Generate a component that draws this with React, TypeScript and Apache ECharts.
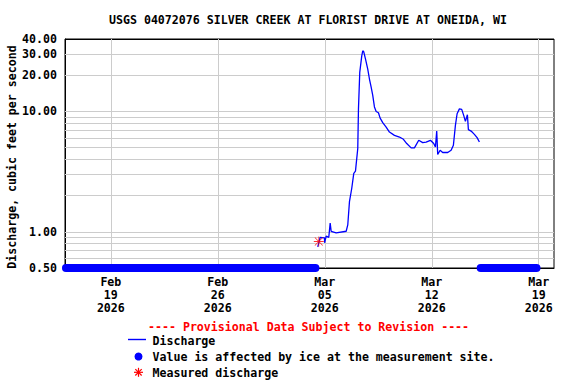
import React, { useEffect, useRef } from 'react';
import * as echarts from 'echarts';

const titleText = 'USGS 04072076 SILVER CREEK AT FLORIST DRIVE AT ONEIDA, WI';
const yAxisTitle = 'Discharge, cubic feet per second';
const provisionalText = '---- Provisional Data Subject to Revision ----';
const legendLabels = ['Discharge', 'Value is affected by ice at the measurement site.', 'Measured discharge'];

const xMin = '2026-02-16 00:00';
const xMax = '2026-03-20 00:00';
const xTickDates = ['2026-02-19 00:00', '2026-02-26 00:00', '2026-03-05 00:00', '2026-03-12 00:00', '2026-03-19 00:00'];
const xTickLabels = ['Feb\n19\n2026', 'Feb\n26\n2026', 'Mar\n05\n2026', 'Mar\n12\n2026', 'Mar\n19\n2026'];

const yMin = 0.5;
const yMax = 40;
const yGridValues = [0.6, 0.7, 0.8, 0.9, 1, 2, 3, 4, 5, 6, 7, 8, 9, 10, 20, 30];
const yLabelValues = [0.5, 1, 10, 20, 30, 40];
const yLabelTexts = ['0.50', '1.00', '10.00', '20.00', '30.00', '40.00'];

const dischargeTimes = [
  '2026-03-04 13:00', '2026-03-04 16:47', '2026-03-04 23:31', '2026-03-04 23:45', '2026-03-05 02:12',
  '2026-03-05 06:17', '2026-03-05 08:28', '2026-03-05 10:03', '2026-03-05 17:54', '2026-03-06 09:36',
  '2026-03-06 12:06', '2026-03-06 14:46', '2026-03-06 18:23', '2026-03-06 21:32', '2026-03-07 00:12',
  '2026-03-07 03:48', '2026-03-07 04:54', '2026-03-07 06:56', '2026-03-07 10:05', '2026-03-07 11:38',
  '2026-03-07 13:13', '2026-03-07 15:53', '2026-03-07 19:29', '2026-03-07 22:09', '2026-03-08 00:50',
  '2026-03-08 03:20', '2026-03-08 06:00', '2026-03-08 08:41', '2026-03-08 12:17', '2026-03-08 14:57',
  '2026-03-08 19:02', '2026-03-09 00:23', '2026-03-09 05:34', '2026-03-09 13:25', '2026-03-09 21:16',
  '2026-03-10 03:32', '2026-03-10 08:43', '2026-03-10 15:37', '2026-03-10 20:48', '2026-03-11 03:33',
  '2026-03-11 09:49', '2026-03-11 15:10', '2026-03-11 21:55', '2026-03-12 03:06', '2026-03-12 05:46',
  '2026-03-12 07:48', '2026-03-12 09:22', '2026-03-12 13:08', '2026-03-12 17:12', '2026-03-13 01:05',
  '2026-03-13 06:24', '2026-03-13 10:00', '2026-03-13 13:09', '2026-03-13 15:49', '2026-03-13 19:26',
  '2026-03-13 23:02', '2026-03-14 02:11', '2026-03-14 04:51', '2026-03-14 07:59', '2026-03-14 09:33',
  '2026-03-14 13:48', '2026-03-14 18:59', '2026-03-14 23:12', '2026-03-15 02:50',
];
const dischargeValues = [
  0.75, 0.9, 0.89, 0.81, 0.92,
  0.9, 1.18, 1.01, 0.98, 1.01,
  1.14, 1.78, 2.3, 3.06, 3.19,
  4.92, 10.5, 21.1, 29.0, 31.9,
  31.3, 27.3, 22.5, 18.6, 15.9,
  13.6, 10.9, 10.0, 9.75, 8.8,
  8.07, 7.42, 6.74, 6.33, 6.13,
  5.87, 5.41, 4.98, 4.98, 5.76,
  5.51, 5.57, 5.76, 5.41, 5.07,
  6.87, 4.39, 4.76, 4.56, 4.56,
  4.76, 5.24, 7.66, 9.57, 10.5,
  10.4, 9.27, 8.27, 9.39, 7.06,
  6.87, 6.45, 6.06, 5.57,
];

const iceStarts = ['2026-02-16 01:30', '2026-03-15 04:50'];
const iceEnds = ['2026-03-04 09:20', '2026-03-18 20:30'];
const iceValue = 0.5;

const measuredTimes = ['2026-03-04 14:36'];
const measuredValues = [0.83];

const FONT = '"DejaVu Sans Mono", "Liberation Mono", monospace';
const FS = 11.6;
const BLUE = '#0000ff';
const RED = '#ff0000';
const ASTERISK =
  'path://M0 9.2H20V10.8H0Z M9.2 0H10.8V20H9.2Z M1.6 2.7L2.7 1.6L18.4 17.3L17.3 18.4Z M17.3 1.6L18.4 2.7L2.7 18.4L1.6 17.3Z';

function toMs(s: string): number {
  const [d, t] = s.split(' ');
  const [y, m, dd] = d.split('-').map(Number);
  const [h, mi] = (t || '00:00').split(':').map(Number);
  return new Date(y, m - 1, dd, h, mi).getTime();
}

function asteriskGraphic(cx: number, cy: number, r: number) {
  const lines = [0, 45, 90, 135].map((deg) => {
    const a = (deg * Math.PI) / 180;
    return {
      type: 'line',
      shape: { x1: cx - r * Math.cos(a), y1: cy - r * Math.sin(a), x2: cx + r * Math.cos(a), y2: cy + r * Math.sin(a) },
      style: { stroke: RED, lineWidth: 1.2 },
    };
  });
  return { type: 'group', children: lines };
}

export default function App() {
  const ref = useRef<HTMLDivElement>(null);

  useEffect(() => {
    if (!ref.current) return;
    const chart = echarts.init(ref.current, undefined, { renderer: 'svg' });

    const yMarks: any[] = yGridValues.map((v) => {
      const i = yLabelValues.indexOf(v);
      return { yAxis: v, name: i >= 0 ? yLabelTexts[i] : '', label: { show: i >= 0, position: 'start', distance: 8 } };
    });
    yLabelValues.forEach((v, i) => {
      if (yGridValues.indexOf(v) < 0) {
        yMarks.push({
          yAxis: v,
          name: yLabelTexts[i],
          lineStyle: { color: '#000' },
          label: { show: true, position: 'start', distance: 8 },
        });
      }
    });
    const xMarks = xTickDates.map((d, i) => ({
      xAxis: toMs(d),
      name: xTickLabels[i],
      label: { show: true, position: 'start', distance: 7, lineHeight: 13, align: 'center' },
    }));

    const labelText = { fontFamily: FONT, fontSize: FS, fontWeight: 'bold', color: '#000' };

    const option: any = {
      animation: false,
      grid: {
        left: 65,
        top: 39,
        width: 489,
        height: 229,
        show: true,
        borderColor: '#000',
        borderWidth: 1,
        backgroundColor: 'transparent',
      },
      xAxis: {
        type: 'time',
        min: toMs(xMin),
        max: toMs(xMax),
        axisLabel: { show: false },
        axisTick: { show: false },
        splitLine: { show: false },
        axisLine: { show: true, lineStyle: { color: '#000', width: 1 } },
      },
      yAxis: {
        type: 'log',
        logBase: 10,
        min: yMin,
        max: yMax,
        axisLabel: { show: false },
        axisTick: { show: false },
        splitLine: { show: false },
        minorSplitLine: { show: false },
        axisLine: { show: true, lineStyle: { color: '#000', width: 1 } },
      },
      series: [
        {
          name: 'Discharge',
          type: 'line',
          z: 3,
          data: dischargeTimes.map((t, i) => [toMs(t), dischargeValues[i]]),
          showSymbol: false,
          symbol: 'none',
          lineStyle: { color: BLUE, width: 1.3 },
          silent: true,
          markLine: {
            z: 1,
            silent: true,
            symbol: 'none',
            animation: false,
            precision: 4,
            lineStyle: { color: '#cccccc', width: 1, type: 'solid' },
            label: { ...labelText, formatter: (p: any) => p.name },
            emphasis: { disabled: true },
            data: [...yMarks, ...xMarks],
          },
        },
        ...iceStarts.map((s, i) => ({
          name: 'Ice' + i,
          type: 'line',
          z: 4,
          clip: false,
          silent: true,
          symbol: 'none',
          data: [
            [toMs(s), iceValue],
            [toMs(iceEnds[i]), iceValue],
          ],
          lineStyle: { color: BLUE, width: 8, cap: 'round' },
        })),
        {
          name: 'Measured discharge',
          type: 'scatter',
          z: 5,
          silent: true,
          symbol: ASTERISK,
          symbolSize: 10,
          itemStyle: { color: RED },
          data: measuredTimes.map((t, i) => [toMs(t), measuredValues[i]]),
        },
      ],
      graphic: [
        {
          type: 'text',
          x: 109,
          y: 20,
          style: { text: titleText, font: `bold ${FS}px ${FONT}`, fill: '#000', textAlign: 'left', textVerticalAlign: 'middle' },
        },
        {
          type: 'text',
          x: 12,
          y: 157,
          rotation: Math.PI / 2,
          style: { text: yAxisTitle, font: `bold ${FS}px ${FONT}`, fill: '#000', textAlign: 'center', textVerticalAlign: 'middle' },
        },
        {
          type: 'text',
          x: 148,
          y: 326.5,
          style: { text: provisionalText, font: `bold ${FS}px ${FONT}`, fill: RED, textAlign: 'left', textVerticalAlign: 'middle' },
        },
        {
          type: 'group',
          children: [
            {
              type: 'line',
              shape: { x1: 128, y1: 339.5, x2: 146, y2: 339.5 },
              style: { stroke: BLUE, lineWidth: 1.4 },
            },
          ],
        },
        {
          type: 'text',
          x: 152.5,
          y: 340.5,
          style: { text: legendLabels[0], font: `bold ${FS}px ${FONT}`, fill: '#000', textAlign: 'left', textVerticalAlign: 'middle' },
        },
        {
          type: 'circle',
          shape: { cx: 138.5, cy: 356.5, r: 4 },
          style: { fill: BLUE },
        },
        {
          type: 'text',
          x: 152.5,
          y: 356.8,
          style: { text: legendLabels[1], font: `bold ${FS}px ${FONT}`, fill: '#000', textAlign: 'left', textVerticalAlign: 'middle' },
        },
        asteriskGraphic(138.5, 372.3, 4.5),
        {
          type: 'text',
          x: 152.5,
          y: 372.8,
          style: { text: legendLabels[2], font: `bold ${FS}px ${FONT}`, fill: '#000', textAlign: 'left', textVerticalAlign: 'middle' },
        },
      ],
    };

    chart.setOption(option);
    return () => chart.dispose();
  }, []);

  return (
    <div
      ref={ref}
      style={{ position: 'fixed', left: 0, top: 0, width: 576, height: 384, background: '#fff' }}
    />
  );
}
